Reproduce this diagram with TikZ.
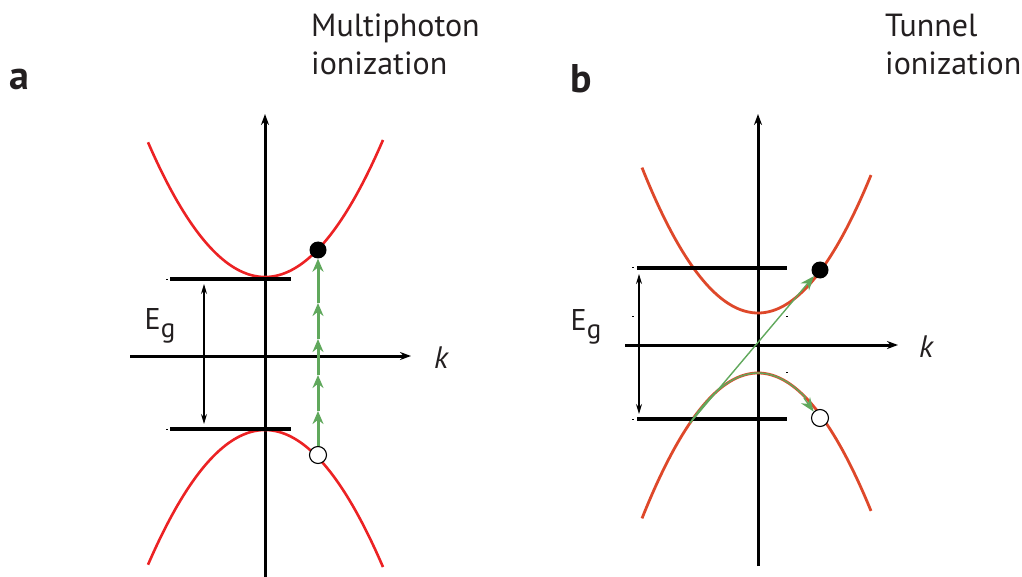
\documentclass[tikz,border=0pt]{standalone}
\usepackage{fontspec}
\setmainfont{PT Sans}
\usetikzlibrary{arrows.meta}
\definecolor{redA}{RGB}{236,34,36}
\definecolor{redB}{RGB}{222,72,42}
\definecolor{grn}{RGB}{96,168,92}
\definecolor{txt}{RGB}{35,31,32}
\begin{document}
\begin{tikzpicture}[x=1pt,y=-1pt,
  axis/.style={line width=3pt,-{Stealth[length=11pt,width=8pt]}},
  band/.style={line width=3.2pt},
  gap/.style={line width=1.1pt,{Stealth[length=10pt,width=6pt]}-{Stealth[length=10pt,width=6pt]}},
  curveA/.style={redA,line width=2.6pt},
  curveB/.style={redB,line width=2.8pt},
  photon/.style={grn,line width=3pt,-{Stealth[length=13pt,width=11pt]}},
  tunnel/.style={grn,line width=1.4pt,-{Stealth[length=14pt,width=11pt]}},
  elec/.style={circle,fill=black,minimum size=17pt,inner sep=0pt},
  hole/.style={circle,draw=black,fill=white,line width=1.1pt,minimum size=17pt,inner sep=0pt},
  lbl/.style={text=txt,font=\fontsize{32}{38}\selectfont,align=left,anchor=north west,inner sep=0pt},
  panel/.style={text=txt,font=\fontsize{40}{40}\selectfont\bfseries,inner sep=0pt},
  klbl/.style={text=txt,font=\fontsize{31}{31}\selectfont\itshape,inner sep=0pt},
  eglbl/.style={text=txt,font=\fontsize{30}{30}\selectfont,inner sep=0pt},
  tick/.style={line width=1pt}]
\useasboundingbox (0,0) rectangle (1022,577);

% ---------- Panel a ----------
\node[panel] (pa) at (19,79) {a};
\node[lbl] (ta) at (311,14) {Multiphoton\\ionization};

\coordinate (aYb) at (265,577);
\coordinate (aYt) at (265,114);
\coordinate (aXl) at (130,356);
\coordinate (aXr) at (411,356);
\draw[axis] (aYb) -- (aYt);
\draw[axis] (aXl) -- (aXr);
\node[klbl] (ka) at (441,358) {k};

\draw[curveA] plot[domain=148:383,samples=80] (\x,{277-0.00984*(\x-265)^2});
\draw[curveA] plot[domain=148:383,samples=80] (\x,{430+0.00984*(\x-265)^2});

\coordinate (aU1) at (170,279); \coordinate (aU2) at (291,279);
\coordinate (aL1) at (170,429); \coordinate (aL2) at (291,429);
\draw[band] (aU1) -- (aU2);
\draw[band] (aL1) -- (aL2);
\draw[tick] (166,279) -- (168,279);
\draw[tick] (166,429) -- (168,429);

\coordinate (aG1) at (204,284);
\coordinate (aG2) at (204,424);
\draw[gap] (aG1) -- (aG2);
\node[eglbl] (ega) at (160,326) {E\raisebox{-0.28em}{\fontsize{27}{27}\selectfont g}};

\node[elec] (ea) at (318,250) {};
\node[hole] (ha) at (318,455) {};
\coordinate (p1) at (318,411);
\coordinate (p2) at (318,375);
\coordinate (p3) at (318,339);
\coordinate (p4) at (318,303);
\draw[photon] (ha.north) -- (p1);
\draw[photon] (p1) -- (p2);
\draw[photon] (p2) -- (p3);
\draw[photon] (p3) -- (p4);
\draw[photon] (p4) -- (ea.south);

% ---------- Panel b ----------
\node[panel] (pb) at (581,79) {b};
\node[lbl] (tb) at (885,14) {Tunnel\\ionization};

\coordinate (bYb) at (758,566);
\coordinate (bYt) at (758,114);
\coordinate (bXl) at (625,345);
\coordinate (bXr) at (898,345);
\draw[axis] (bYb) -- (bYt);
\draw[axis] (bXl) -- (bXr);
\node[klbl] (kb) at (926,347) {k};

\draw[curveB] plot[domain=642:871,samples=80] (\x,{313-0.0108*(\x-758)^2});
\draw[curveB] plot[domain=642:871,samples=80] (\x,{373+0.0108*(\x-758)^2});

\coordinate (bU1) at (637,268); \coordinate (bU2) at (787,268);
\coordinate (bL1) at (637,419); \coordinate (bL2) at (787,419);
\draw[band] (bU1) -- (bU2);
\draw[band] (bL1) -- (bL2);
\draw[tick] (632,268) -- (634,268);
\draw[tick] (632,419) -- (634,419);
\draw[tick] (632,316) -- (634,316);
\draw[tick] (786,316) -- (788,316);
\draw[tick] (786,372) -- (788,372);

\coordinate (bG1) at (639,274);
\coordinate (bG2) at (639,414);
\draw[gap] (bG1) -- (bG2);
\node[eglbl] (egb) at (586,327) {E\raisebox{-0.28em}{\fontsize{27}{27}\selectfont g}};

\node[elec] (eb) at (820,270) {};
\node[hole] (hb) at (820,418) {};
\coordinate (ts) at (690,423);
\draw[tunnel] (ts) -- (eb.south west);
\draw[grn,line width=1.4pt] plot[domain=690:806,samples=60] (\x,{373+0.0108*(\x-758)^2});
\draw[tunnel] (804,398) -- (hb.north west);
\end{tikzpicture}
\end{document}
